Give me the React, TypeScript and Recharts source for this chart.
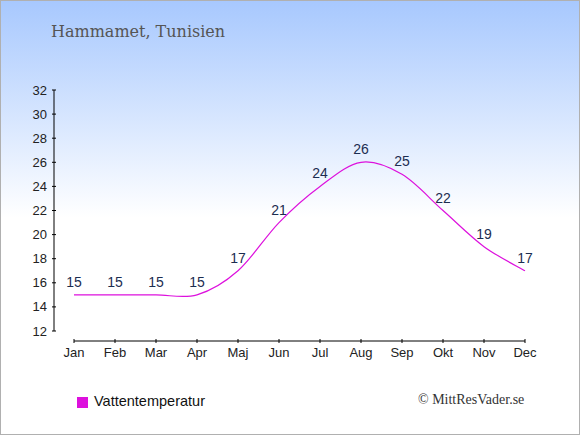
import React from "react";
import {
  LineChart,
  Line,
  XAxis,
  YAxis,
  LabelList,
  Legend,
  ReferenceLine,
} from "recharts";

const months = ["Jan", "Feb", "Mar", "Apr", "Maj", "Jun", "Jul", "Aug", "Sep", "Okt", "Nov", "Dec"];
const waterTemp = [15, 15, 15, 15, 17, 21, 24, 26, 25, 22, 19, 17];
const yTicks = [12, 14, 16, 18, 20, 22, 24, 26, 28, 30, 32];

const data = months.map((month, i) => ({ month, temp: waterTemp[i] }));

const LINE_COLOR = "#dd11dd";
const LABEL_COLOR = "#1c2d50";
const SANS = "'Liberation Sans', Arial, sans-serif";
// x axis sits a little below the lowest y tick
const X_AXIS_LEVEL = 11.17;

// Catmull-Rom style curve, gives the soft dip/overshoot of the original
function smoothCurve(context: any) {
  let pts: number[][] = [];
  return {
    areaStart() {},
    areaEnd() {},
    lineStart() {
      pts = [];
    },
    point(x: number, y: number) {
      pts.push([+x, +y]);
    },
    lineEnd() {
      if (!pts.length) return;
      context.moveTo(pts[0][0], pts[0][1]);
      for (let i = 0; i < pts.length - 1; i++) {
        const p0 = pts[i - 1] || pts[i];
        const p1 = pts[i];
        const p2 = pts[i + 1];
        const p3 = pts[i + 2] || p2;
        context.bezierCurveTo(
          p1[0] + (p2[0] - p0[0]) / 6,
          p1[1] + (p2[1] - p0[1]) / 6,
          p2[0] - (p3[0] - p1[0]) / 6,
          p2[1] - (p3[1] - p1[1]) / 6,
          p2[0],
          p2[1]
        );
      }
    },
  };
}

function MonthTick({ x, y, payload }: any) {
  return (
    <g>
      <line x1={x} x2={x} y1={y + 8} y2={y + 12} stroke="#000" />
      <text x={x} y={y + 26} textAnchor="middle" fill="#222" fontSize={13} fontFamily={SANS}>
        {payload.value}
      </text>
    </g>
  );
}

function TempTick({ x, y, payload }: any) {
  return (
    <g>
      <line x1={x - 2} x2={x + 2} y1={y} y2={y} stroke="#000" />
      <text x={x - 7} y={y + 4.5} textAnchor="end" fill="#222" fontSize={13} fontFamily={SANS}>
        {payload.value}
      </text>
    </g>
  );
}

export default function App() {
  return (
    <div
      style={{
        position: "absolute",
        left: 0,
        top: 0,
        width: 580,
        height: 435,
        background: "linear-gradient(to bottom, #a7c8fe 0%, #ffffff 50%, #ffffff 100%)",
        boxShadow: "inset 0 0 0 1px #b0b0b0",
      }}
    >
      <LineChart
        width={580}
        height={435}
        data={data}
        margin={{ top: 90, right: 53, left: 4, bottom: 74 }}
      >
        <XAxis
          dataKey="month"
          height={30}
          axisLine={false}
          tickLine={false}
          tickSize={0}
          tickMargin={0}
          padding={{ left: 20, right: 2 }}
          interval={0}
          tick={<MonthTick />}
        />
        <YAxis
          width={50}
          domain={[12, 32]}
          ticks={yTicks}
          interval={0}
          axisLine={{ stroke: "#000" }}
          tickLine={false}
          tickSize={0}
          tickMargin={0}
          tick={<TempTick />}
        />
        <ReferenceLine
          segment={[
            { x: months[0], y: X_AXIS_LEVEL },
            { x: months[months.length - 1], y: X_AXIS_LEVEL },
          ]}
          stroke="#000"
          ifOverflow="visible"
        />
        <Legend
          layout="horizontal"
          verticalAlign="middle"
          align="center"
          iconType="square"
          iconSize={11}
          wrapperStyle={{
            left: 77,
            top: 393,
            width: "auto",
            height: "auto",
            fontFamily: SANS,
            fontSize: 14.5,
          }}
          formatter={(value) => (
            <span style={{ color: "#111", paddingLeft: 2 }}>{value}</span>
          )}
        />
        <Line
          type={smoothCurve as any}
          dataKey="temp"
          name="Vattentemperatur"
          stroke={LINE_COLOR}
          strokeWidth={1.2}
          dot={false}
          activeDot={false}
          legendType="square"
          isAnimationActive={false}
        >
          <LabelList
            dataKey="temp"
            position="top"
            offset={8}
            fill={LABEL_COLOR}
            fontSize={14}
            fontFamily={SANS}
          />
        </Line>
      </LineChart>
      <div
        style={{
          position: "absolute",
          left: 51,
          top: 24,
          fontFamily: "'DejaVu Serif', serif",
          fontSize: 16,
          lineHeight: "16px",
          color: "#555",
          whiteSpace: "nowrap",
        }}
      >
        Hammamet, Tunisien
      </div>
      <div
        style={{
          position: "absolute",
          left: 418,
          top: 393,
          fontFamily: "'Liberation Serif', serif",
          fontSize: 14,
          lineHeight: "14px",
          color: "#333",
          whiteSpace: "nowrap",
        }}
      >
        © MittResVader.se
      </div>
    </div>
  );
}
